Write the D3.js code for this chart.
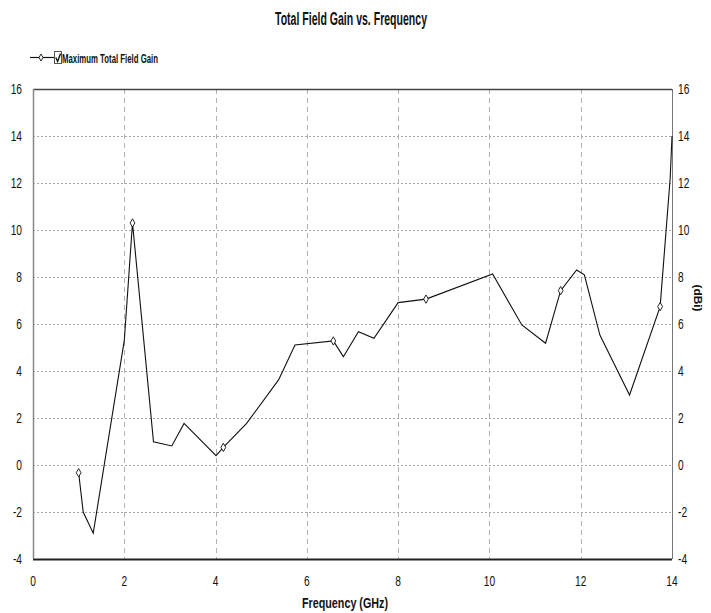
<!DOCTYPE html>
<html>

<head>
    <meta charset="utf-8" />
    <title>Total Field Gain vs. Frequency</title>
    <script src="https://cdn.jsdelivr.net/npm/d3@7/dist/d3.min.js"></script>
</head>

<body>
    <style>
        html,
        body {
            margin: 0;
            padding: 0;
            background: #fff;
        }

        svg text {
            font-family: "Liberation Sans", Arial, sans-serif;
            fill: #111;
        }

        .grid-h {
            stroke: #a8a8a8;
            stroke-width: 1px;
            stroke-dasharray: 2, 2;
        }

        .grid-v {
            stroke: #b0b0b0;
            stroke-width: 1px;
            stroke-dasharray: 5, 4;
        }

        .curve {
            fill: none;
            stroke: #111;
            stroke-width: 1.1px;
        }

        .marker {
            fill: #fff;
            stroke: #111;
            stroke-width: 0.9px;
        }
    </style>
    <div id="container"></div>
    <script>
        // frequency (GHz) and gain (dBi)
        const freq = [1.0, 1.1, 1.32, 2.0, 2.18, 2.64, 3.04, 3.31, 4.01, 4.17, 4.68, 5.38, 5.74, 6.58, 6.80, 7.13, 7.47, 8.0, 8.61, 10.07, 10.71, 11.23, 11.56, 11.91, 12.08, 12.42, 13.07, 13.74, 13.96, 14.0];
        const gain = [-0.33, -2.0, -2.9, 5.3, 10.3, 0.99, 0.81, 1.77, 0.4, 0.75, 1.77, 3.62, 5.11, 5.28, 4.61, 5.67, 5.39, 6.91, 7.06, 8.13, 5.96, 5.18, 7.42, 8.30, 8.09, 5.53, 2.98, 6.74, 12.2, 14.0];
        const markerIdx = [0, 4, 9, 13, 18, 22, 27];
        const xTicks = [0, 2, 4, 6, 8, 10, 12, 14];
        const yTicks = [-4, -2, 0, 2, 4, 6, 8, 10, 12, 14, 16];

        const width = 711,
            height = 613;
        const plot = { left: 33, right: 672, top: 89, bottom: 559 };

        const svg = d3.select("#container").append("svg")
            .attr("width", width)
            .attr("height", height);

        const x = d3.scaleLinear().domain([0, 14]).range([plot.left, plot.right]);
        const y = d3.scaleLinear().domain([-4, 16]).range([plot.bottom, plot.top]);

        // narrow text: the original uses a condensed face
        function narrow(sel, px, py, sx) {
            return sel.attr("transform", `translate(${px},${py}) scale(${sx},1)`);
        }

        // grid
        svg.append("g").selectAll("line")
            .data(yTicks.filter(d => d > -4 && d < 16))
            .enter().append("line")
            .attr("class", "grid-h")
            .attr("x1", plot.left).attr("x2", plot.right)
            .attr("y1", d => Math.round(y(d)) + 0.5).attr("y2", d => Math.round(y(d)) + 0.5);

        svg.append("g").selectAll("line")
            .data(xTicks.filter(d => d > 0 && d < 14))
            .enter().append("line")
            .attr("class", "grid-v")
            .attr("y1", plot.top).attr("y2", plot.bottom)
            .attr("x1", d => Math.round(x(d)) + 0.5).attr("x2", d => Math.round(x(d)) + 0.5);

        // frame
        const frame = svg.append("g");
        frame.append("line").attr("x1", plot.left).attr("x2", plot.right)
            .attr("y1", plot.top + 0.5).attr("y2", plot.top + 0.5)
            .attr("stroke", "#444").attr("stroke-width", 1.5);
        frame.append("line").attr("x1", plot.left).attr("x2", plot.right)
            .attr("y1", plot.bottom + 0.5).attr("y2", plot.bottom + 0.5)
            .attr("stroke", "#222").attr("stroke-width", 2);
        frame.append("line").attr("x1", plot.left + 0.5).attr("x2", plot.left + 0.5)
            .attr("y1", plot.top).attr("y2", plot.bottom)
            .attr("stroke", "#888").attr("stroke-width", 1.5);
        frame.append("line").attr("x1", plot.right + 0.5).attr("x2", plot.right + 0.5)
            .attr("y1", plot.top).attr("y2", plot.bottom)
            .attr("stroke", "#777").attr("stroke-width", 1);

        // tick labels
        svg.append("g").selectAll("text")
            .data(yTicks)
            .enter().append("text")
            .each(function(d) { narrow(d3.select(this), 22, y(d), 0.68); })
            .attr("dy", "0.35em")
            .attr("text-anchor", "end")
            .attr("font-size", 15)
            .attr("fill", "#222")
            .text(d => d);

        svg.append("g").selectAll("text")
            .data(yTicks)
            .enter().append("text")
            .each(function(d) { narrow(d3.select(this), 678, y(d), 0.68); })
            .attr("dy", "0.35em")
            .attr("text-anchor", "start")
            .attr("font-size", 15)
            .attr("fill", "#222")
            .text(d => d);

        svg.append("g").selectAll("text")
            .data(xTicks)
            .enter().append("text")
            .each(function(d) { narrow(d3.select(this), x(d), 581, 0.68); })
            .attr("dy", "0.35em")
            .attr("text-anchor", "middle")
            .attr("font-size", 15)
            .attr("fill", "#222")
            .text(d => d);

        // titles
        svg.append("text")
            .attr("x", 351).attr("y", 25)
            .attr("text-anchor", "middle")
            .attr("font-size", 18)
            .attr("font-weight", "bold")
            .attr("textLength", 152)
            .attr("lengthAdjust", "spacingAndGlyphs")
            .text("Total Field Gain vs. Frequency");

        svg.append("text")
            .attr("x", 345).attr("y", 608)
            .attr("text-anchor", "middle")
            .attr("font-size", 14)
            .attr("font-weight", "bold")
            .attr("textLength", 86)
            .attr("lengthAdjust", "spacingAndGlyphs")
            .text("Frequency (GHz)");

        svg.append("text")
            .attr("transform", "translate(694,298) rotate(90)")
            .attr("text-anchor", "middle")
            .attr("font-size", 11)
            .attr("font-weight", "bold")
            .attr("textLength", 27)
            .attr("lengthAdjust", "spacingAndGlyphs")
            .text("(dBi)");

        // curve
        const pts = freq.map((f, i) => [f, gain[i]]);
        const line = d3.line().x(d => x(d[0])).y(d => y(d[1]));
        svg.append("path")
            .datum(pts)
            .attr("class", "curve")
            .attr("d", line);

        const diamond = d3.symbol().type(d3.symbolDiamond).size(20);
        svg.append("g").selectAll("path")
            .data(markerIdx.map(i => pts[i]))
            .enter().append("path")
            .attr("class", "marker")
            .attr("transform", d => `translate(${x(d[0])},${y(d[1])})`)
            .attr("d", diamond);

        // legend
        const lg = svg.append("g");
        lg.append("line").attr("x1", 30).attr("x2", 54).attr("y1", 57.5).attr("y2", 57.5)
            .attr("stroke", "#111").attr("stroke-width", 1.2);
        lg.append("path").attr("class", "marker")
            .attr("transform", "translate(41,57.5)").attr("d", d3.symbol().type(d3.symbolDiamond).size(14));
        lg.append("rect").attr("x", 54.5).attr("y", 51.5).attr("width", 7).attr("height", 12)
            .attr("fill", "#fff").attr("stroke", "#555").attr("stroke-width", 1);
        lg.append("path").attr("d", "M55.8,57.5 L57.6,61.5 L60.6,53.5")
            .attr("fill", "none").attr("stroke", "#111").attr("stroke-width", 1.4);
        lg.append("text")
            .attr("x", 62).attr("y", 58)
            .attr("dy", "0.35em")
            .attr("font-size", 13.5)
            .attr("font-weight", "bold")
            .attr("textLength", 96)
            .attr("lengthAdjust", "spacingAndGlyphs")
            .text("Maximum Total Field Gain");
    </script>
</body>

</html>
